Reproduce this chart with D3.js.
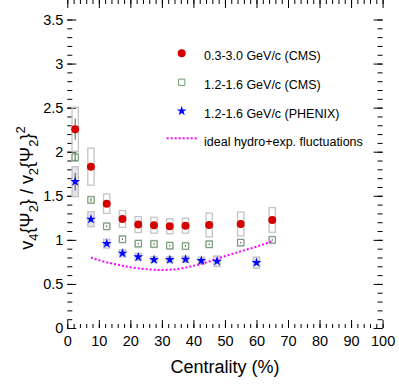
<!DOCTYPE html>
<html>
<head>
<meta charset="utf-8">
<script src="https://cdn.jsdelivr.net/npm/d3@7"></script>
<style>
  body { margin: 0; background: #fff; }
  svg { font-family: "Liberation Sans", Arial, sans-serif; }
</style>
</head>
<body>
<svg id="chart" width="399" height="387"></svg>
<script>
// centrality bins (%)
var centCMS = [2.5, 7.5, 12.5, 17.5, 22.5, 27.5, 32.5, 37.5, 45, 55, 65];
var centPHENIX = [2.5, 7.5, 12.5, 17.5, 22.5, 27.5, 32.5, 37.5, 42.5, 47.5, 60];

// 0.3-3.0 GeV/c (CMS)
var cmsWide = [2.255, 1.83, 1.41, 1.237, 1.173, 1.166, 1.154, 1.161, 1.169, 1.18, 1.226];
var cmsWideStat = [0.12, 0.03, 0.02, 0.01, 0.01, 0.01, 0.01, 0.01, 0.01, 0.01, 0.01];
var cmsWideSys = [0.25, 0.21, 0.11, 0.095, 0.09, 0.09, 0.085, 0.085, 0.135, 0.135, 0.14];

// 1.2-1.6 GeV/c (CMS)
var cmsNarrow = [1.937, 1.453, 1.154, 1.007, 0.957, 0.953, 0.934, 0.93, 0.95, 0.968, 0.999];
var cmsNarrowStat = [0.05, 0.02, 0.01, 0.01, 0.01, 0.01, 0.01, 0.01, 0.01, 0.01, 0.01];
var cmsNarrowSys = [0.045, 0.04, 0.04, 0.04, 0.04, 0.04, 0.04, 0.04, 0.04, 0.04, 0.04];

// 1.2-1.6 GeV/c (PHENIX)
var phenix = [1.66, 1.234, 0.957, 0.848, 0.806, 0.775, 0.775, 0.78, 0.764, 0.757, 0.741];
var phenixStat = [0.1, 0.03, 0.02, 0.01, 0.01, 0.01, 0.01, 0.01, 0.01, 0.01, 0.01];
var phenixSys = [0.17, 0.085, 0.05, 0.04, 0.04, 0.035, 0.035, 0.035, 0.04, 0.06, 0.065];

// ideal hydro + exp. fluctuations
var hydroCent = [7.5, 10, 15, 20, 25, 30, 35, 40, 45, 50, 55, 60, 65];
var hydroVal = [0.80, 0.77, 0.725, 0.69, 0.668, 0.658, 0.67, 0.705, 0.755, 0.815, 0.87, 0.923, 0.985];

var xTicks = [0, 10, 20, 30, 40, 50, 60, 70, 80, 90, 100];
var yTicks = [0, 0.5, 1, 1.5, 2, 2.5, 3, 3.5];

var legendLabels = ["0.3-3.0 GeV/c (CMS)", "1.2-1.6 GeV/c (CMS)", "1.2-1.6 GeV/c (PHENIX)", "ideal hydro+exp. fluctuations"];

var svg = d3.select("#chart");

var x = d3.scaleLinear().domain([0, 100]).range([67.3, 382.6]);
var y = d3.scaleLinear().domain([0, 3.5]).range([328, 19.5]);

var left = x(0), right = x(100), top = y(3.5), bottom = y(0);

// minor ticks
var xMinor = d3.range(0, 101, 2);
var yMinor = d3.range(0, 36).map(function(i) { return i / 10; });

function styleAxis(g) {
  g.select(".domain").remove();
  g.selectAll("line").attr("stroke", "#000").attr("stroke-width", 1);
  g.selectAll("text").attr("font-size", "14.5px").attr("fill", "#000")
    .attr("font-family", "'Liberation Sans', Arial, sans-serif");
}

// bottom axis (major, labels)
svg.append("g").attr("transform", "translate(0," + bottom + ")")
  .call(d3.axisBottom(x).tickValues(xTicks).tickFormat(d3.format("d")).tickSizeInner(-8).tickSizeOuter(0).tickPadding(8))
  .call(styleAxis);
svg.append("g").attr("transform", "translate(0," + bottom + ")")
  .call(d3.axisBottom(x).tickValues(xMinor).tickFormat("").tickSizeInner(-4).tickSizeOuter(0))
  .call(styleAxis);
// top axis ticks
svg.append("g").attr("transform", "translate(0," + top + ")")
  .call(d3.axisTop(x).tickValues(xTicks).tickFormat("").tickSizeInner(-8).tickSizeOuter(0))
  .call(styleAxis);
svg.append("g").attr("transform", "translate(0," + top + ")")
  .call(d3.axisTop(x).tickValues(xMinor).tickFormat("").tickSizeInner(-4).tickSizeOuter(0))
  .call(styleAxis);

// left axis
svg.append("g").attr("transform", "translate(" + left + ",0)")
  .call(d3.axisLeft(y).tickValues(yTicks).tickFormat(function(d) { return d3.format("")(d); }).tickSizeInner(-9).tickSizeOuter(0).tickPadding(4))
  .call(styleAxis);
svg.append("g").attr("transform", "translate(" + left + ",0)")
  .call(d3.axisLeft(y).tickValues(yMinor).tickFormat("").tickSizeInner(-5).tickSizeOuter(0))
  .call(styleAxis);
// right axis ticks
svg.append("g").attr("transform", "translate(" + right + ",0)")
  .call(d3.axisRight(y).tickValues(yTicks).tickFormat("").tickSizeInner(-9).tickSizeOuter(0))
  .call(styleAxis);
svg.append("g").attr("transform", "translate(" + right + ",0)")
  .call(d3.axisRight(y).tickValues(yMinor).tickFormat("").tickSizeInner(-5).tickSizeOuter(0))
  .call(styleAxis);

// frame
svg.append("rect")
  .attr("x", left).attr("y", top)
  .attr("width", right - left).attr("height", bottom - top)
  .attr("fill", "none").attr("stroke", "#000").attr("stroke-width", 1);

// axis titles
svg.append("text")
  .attr("x", (left + right) / 2).attr("y", 373)
  .attr("text-anchor", "middle").attr("font-size", "18px")
  .text("Centrality (%)");

var yt = svg.append("text")
  .attr("transform", "translate(33,188) rotate(-90)")
  .attr("text-anchor", "middle").attr("font-size", "18px");
var ytParts = [["v", 0, 18], ["4", 5, 13], ["{\u03A8", -5, 18], ["2", 5, 13], ["} / v", -5, 18],
               ["2", 5, 13], ["{\u03A8", -5, 18], ["2", 5, 13], ["}", -5, 18], ["2", -8, 13]];
ytParts.forEach(function(p) {
  yt.append("tspan").attr("dy", p[1]).attr("font-size", p[2] + "px").text(p[0]);
});

// series
function series(cent, val, stat, sys) {
  return cent.map(function(c, i) { return { c: c, v: val[i], stat: stat[i], sys: sys[i] }; });
}
var dWide = series(centCMS, cmsWide, cmsWideStat, cmsWideSys);
var dNarrow = series(centCMS, cmsNarrow, cmsNarrowStat, cmsNarrowSys);
var dPhenix = series(centPHENIX, phenix, phenixStat, phenixSys);

var boxHalf = 1; // centrality units

function drawSys(data, fill) {
  svg.append("g").selectAll("rect").data(data).enter().append("rect")
    .attr("x", function(d) { return x(d.c - boxHalf); })
    .attr("width", function(d) { return x(d.c + boxHalf) - x(d.c - boxHalf); })
    .attr("y", function(d) { return y(d.v + d.sys); })
    .attr("height", function(d) { return y(d.v - d.sys) - y(d.v + d.sys); })
    .attr("fill", fill).attr("stroke", "#c4c4c4").attr("stroke-width", 1.3);
}
function drawStat(data) {
  svg.append("g").selectAll("line").data(data).enter().append("line")
    .attr("x1", function(d) { return x(d.c); }).attr("x2", function(d) { return x(d.c); })
    .attr("y1", function(d) { return y(d.v + d.stat); })
    .attr("y2", function(d) { return y(d.v - d.stat); })
    .attr("stroke", "#555").attr("stroke-width", 1);
}

drawSys(dWide, "none");
drawSys(dNarrow, "none");
drawSys(dPhenix, "#e4e4ec");
drawStat(dWide);
drawStat(dNarrow);
drawStat(dPhenix);

// hydro curve
var hydro = hydroCent.map(function(c, i) { return [c, hydroVal[i]]; });
svg.append("path")
  .datum(hydro)
  .attr("d", d3.line().x(function(d) { return x(d[0]); }).y(function(d) { return y(d[1]); }).curve(d3.curveMonotoneX))
  .attr("fill", "none").attr("stroke", "#ff00ff").attr("stroke-width", 2)
  .attr("stroke-dasharray", "2,2");

var circleSym = d3.symbol().type(d3.symbolCircle).size(50);
var squareSym = d3.symbol().type(d3.symbolSquare).size(40);
var starSym = d3.symbol().type(d3.symbolStar).size(30);

function drawMarkers(data, sym, fill, stroke) {
  svg.append("g").selectAll("path").data(data).enter().append("path")
    .attr("transform", function(d) { return "translate(" + x(d.c) + "," + y(d.v) + ")"; })
    .attr("d", sym)
    .attr("fill", fill).attr("stroke", stroke).attr("stroke-width", 1);
}
drawMarkers(dWide, circleSym, "#d40000", "none");
drawMarkers(dNarrow, squareSym, "none", "#6f9f6f");
drawMarkers(dPhenix, starSym, "#0000ff", "none");

// legend
var lx = 181.7, tx = 204;
var ly = [53.3, 82.3, 111, 138.3];
var lg = svg.append("g");
lg.append("path").attr("transform", "translate(" + lx + "," + ly[0] + ")").attr("d", circleSym).attr("fill", "#d40000");
lg.append("path").attr("transform", "translate(" + lx + "," + ly[1] + ")").attr("d", squareSym).attr("fill", "none").attr("stroke", "#6f9f6f");
lg.append("path").attr("transform", "translate(" + lx + "," + ly[2] + ")").attr("d", starSym).attr("fill", "#0000ff");
lg.append("line").attr("x1", 166.7).attr("x2", 198).attr("y1", ly[3]).attr("y2", ly[3])
  .attr("stroke", "#ff00ff").attr("stroke-width", 2).attr("stroke-dasharray", "2,2");
lg.selectAll("text").data(legendLabels).enter().append("text")
  .attr("x", tx).attr("y", function(d, i) { return ly[i] + (i === 3 ? 7.5 : 6.5); })
  .attr("font-size", "12.5px").attr("fill", "#000")
  .text(function(d) { return d; });
</script>
</body>
</html>
